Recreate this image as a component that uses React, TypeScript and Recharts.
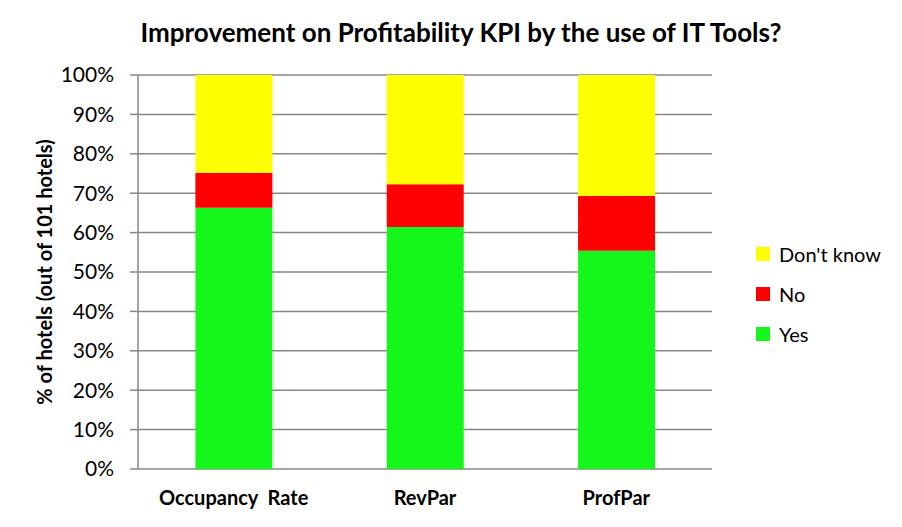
import { BarChart, Bar, XAxis, YAxis, CartesianGrid, Legend, Label } from "recharts";

const categories = ["Occupancy  Rate", "RevPar", "ProfPar"];
const yes = [66.3, 61.4, 55.4];
const no = [8.9, 10.9, 13.9];
const dontKnow = [24.8, 27.7, 30.7];
const yTicks = [0, 10, 20, 30, 40, 50, 60, 70, 80, 90, 100];
const boundaryTicks = [0, 1, 2, 3];

const GREEN = "#15F71B";
const RED = "#FF0000";
const YELLOW = "#FFFF00";
const GRID = "#878787";
const FONT = "Lato, 'Liberation Sans', sans-serif";

const data = categories.map((name, i) => ({
  name,
  pos: i + 0.5,
  yes: yes[i],
  no: no[i],
  dk: dontKnow[i],
}));

const legendItems = [
  { label: "Don't know", color: YELLOW },
  { label: "No", color: RED },
  { label: "Yes", color: GREEN },
];

function LegendBox() {
  return (
    <div style={{ fontFamily: FONT, fontSize: 20, color: "#000" }}>
      {legendItems.map((it) => (
        <div
          key={it.label}
          style={{ display: "flex", alignItems: "center", height: 40 }}
        >
          <span
            style={{
              display: "inline-block",
              width: 14,
              height: 14,
              background: it.color,
              marginRight: 9,
            }}
          />
          {it.label}
        </div>
      ))}
    </div>
  );
}

function CategoryTick({ x, y, payload }: any) {
  return (
    <text
      x={x}
      y={y}
      textAnchor="middle"
      dominantBaseline="central"
      xmlSpace="preserve"
      fontFamily={FONT}
      fontSize={20}
      fontWeight={700}
      fill="#000"
    >
      {payload.value}
    </text>
  );
}

export default function App() {
  return (
    <div
      style={{
        position: "absolute",
        left: 0,
        top: 0,
        width: 902,
        height: 527,
        background: "#fff",
        fontFamily: FONT,
      }}
    >
      <div
        style={{
          position: "absolute",
          left: 0,
          top: 17,
          width: 922,
          textAlign: "center",
          fontWeight: 700,
          fontSize: 26,
          lineHeight: "30px",
          color: "#000",
        }}
      >
        Improvement on Profitability KPI by the use of IT Tools?
      </div>
      <BarChart
        width={902}
        height={527}
        data={data}
        margin={{ top: 75, right: 44, bottom: 0, left: 38 }}
        barCategoryGap="30%"
      >
        <CartesianGrid
          vertical={false}
          stroke={GRID}
          strokeWidth={1.5}
          xAxisId="cat"
        />
        <XAxis
          xAxisId="grid"
          type="number"
          dataKey="pos"
          domain={[0, 3]}
          ticks={boundaryTicks}
          tickFormatter={() => ""}
          height={0}
          tickSize={7}
          stroke={GRID}
          strokeWidth={1.5}
        />
        <XAxis
          xAxisId="cat"
          dataKey="name"
          height={58}
          axisLine={false}
          tickLine={false}
          tickSize={0}
          tickMargin={28}
          interval={0}
          tick={<CategoryTick />}
        />
        <YAxis
          width={100}
          domain={[0, 100]}
          ticks={yTicks}
          interval={0}
          tickFormatter={(v) => `${v}%`}
          tickSize={8}
          tickMargin={16}
          stroke={GRID}
          strokeWidth={1.5}
          tick={{ fill: "#000", fontSize: 21, fontFamily: FONT }}
        >
          <Label
            content={({ viewBox }: any) => {
              const x = viewBox.x + 6;
              const y = viewBox.y + viewBox.height / 2;
              return (
                <text
                  x={x}
                  y={y}
                  transform={`rotate(-90 ${x} ${y})`}
                  textAnchor="middle"
                  dominantBaseline="central"
                  fontFamily={FONT}
                  fontSize={20}
                  fontWeight={700}
                  fill="#000"
                >
                  % of hotels (out of 101 hotels)
                </text>
              );
            }}
          />
        </YAxis>
        <Legend
          layout="vertical"
          align="right"
          verticalAlign="middle"
          content={() => <LegendBox />}
          wrapperStyle={{ left: 756, top: 234, width: 146 }}
        />
        <Bar dataKey="yes" name="Yes" stackId="a" xAxisId="cat" fill={GREEN} isAnimationActive={false} />
        <Bar dataKey="no" name="No" stackId="a" xAxisId="cat" fill={RED} isAnimationActive={false} />
        <Bar dataKey="dk" name="Don't know" stackId="a" xAxisId="cat" fill={YELLOW} isAnimationActive={false} />
      </BarChart>
    </div>
  );
}
